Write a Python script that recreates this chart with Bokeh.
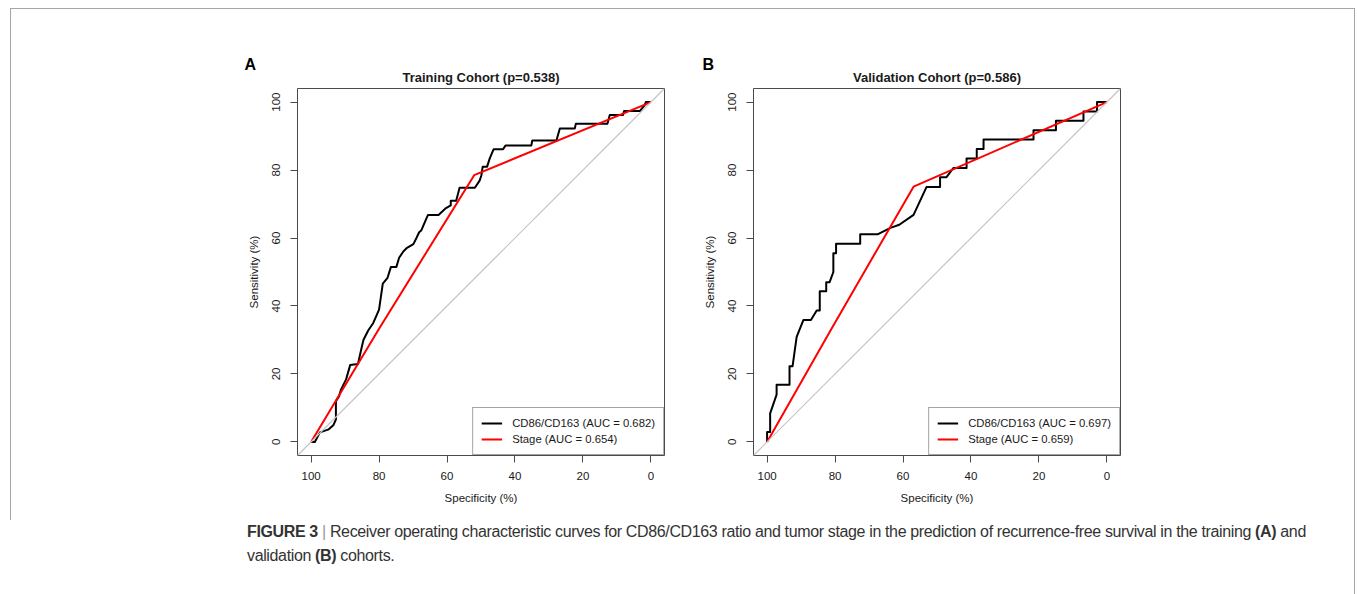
from bokeh.plotting import figure
from bokeh.models import Range1d, Slope, Legend, LegendItem, Title, Div, Spacer, FixedTicker
from bokeh.layouts import row, column
from bokeh.embed import file_html
from bokeh.resources import INLINE

FONT = "Liberation Sans"
INK = "#1a1a1a"
BOX = "#4a4a4a"
FRAME = "#a6a6a6"

axis_ticks = [0, 20, 40, 60, 80, 100]

# Training cohort: ROC of the CD86/CD163 ratio (specificity %, sensitivity %)
train_ratio_spec = [100, 98.9, 97.4, 94.8, 93.4, 92.7, 92.7, 91.8, 91.2, 89.7, 88.5, 86.2,
                    85.2, 84.6, 83.2, 81.7, 80.0, 78.9, 77.5, 76.5, 74.9, 74.1, 72.8, 71.9,
                    69.9, 69.0, 68.2, 67.6, 65.6, 62.5, 60.3, 58.9, 58.9, 57.3, 56.3, 51.8,
                    50.4, 49.9, 49.5, 48.2, 47.4, 46.3, 43.5, 42.8, 35.2, 34.9, 27.8, 26.8,
                    22.4, 22.1, 12.8, 12.1, 8.2, 7.9, 3.2, 1.8, 1.5, 0]
train_ratio_sens = [0, 0, 2.8, 3.7, 5.0, 6.6, 12.0, 13.4, 15.4, 18.4, 22.6, 22.9,
                    27.4, 30.0, 32.8, 35.0, 38.9, 46.6, 48.3, 51.5, 51.5, 54.2, 56.1, 57.0,
                    58.2, 60.0, 61.7, 62.2, 66.8, 66.8, 68.8, 69.6, 71.0, 71.0, 74.8, 74.8,
                    76.9, 78.4, 81.0, 81.0, 83.5, 86.1, 86.1, 87.2, 87.2, 88.7, 88.7, 92.2,
                    92.2, 93.6, 93.6, 96.2, 96.2, 97.4, 97.4, 99.2, 100, 100]

# Training cohort: ROC of tumour stage
train_stage_spec = [100, 80.0, 52.0, 0]
train_stage_sens = [0, 33.3, 78.5, 100]

# Validation cohort: ROC of the CD86/CD163 ratio
valid_ratio_spec = [100, 100, 99.1, 99.1, 97.2, 97.2, 93.4, 93.4, 92.5, 91.3, 89.3, 87.1,
                    85.4, 84.5, 84.5, 82.6, 82.6, 81.6, 80.5, 80.5, 79.7, 79.7, 72.6, 72.6,
                    67.5, 63.7, 61.1, 56.9, 53.1, 49.1, 49.1, 47.2, 45.2, 41.3, 41.3, 38.3,
                    38.3, 36.3, 36.3, 21.6, 21.6, 15.0, 15.0, 6.9, 6.9, 2.9, 2.9, 0]
valid_ratio_sens = [0, 2.9, 2.9, 8.4, 13.9, 16.8, 16.8, 22.3, 22.3, 30.9, 35.9, 35.9,
                    38.7, 38.7, 44.3, 44.3, 47.0, 47.0, 50.0, 55.5, 55.5, 58.3, 58.3, 61.1,
                    61.1, 63.0, 63.9, 66.8, 75.0, 75.0, 77.9, 77.9, 80.6, 80.6, 83.4, 83.4,
                    86.2, 86.2, 89.0, 89.0, 91.7, 91.7, 94.5, 94.5, 97.2, 97.2, 100, 100]

# Validation cohort: ROC of tumour stage
valid_stage_spec = [100, 81.0, 56.9, 0]
valid_stage_sens = [0, 33.4, 75.1, 100]

panels = [
    dict(letter="A", title="Training Cohort (p=0.538)", auc_ratio="0.682", auc_stage="0.654",
         ratio=(train_ratio_spec, train_ratio_sens), stage=(train_stage_spec, train_stage_sens),
         width=689, border_left=286, border_right=36, letter_offset=-53),
    dict(letter="B", title="Validation Cohort (p=0.586)", auc_ratio="0.697", auc_stage="0.659",
         ratio=(valid_ratio_spec, valid_ratio_sens), stage=(valid_stage_spec, valid_stage_sens),
         width=654, border_left=53, border_right=234, letter_offset=-51),
]

PANEL_H = 511


def roc_panel(cfg):
    p = figure(width=cfg["width"], height=PANEL_H,
               x_range=Range1d(104, -4), y_range=Range1d(-4, 104),
               output_backend="svg", toolbar_location=None, title_location=None,
               min_border_left=cfg["border_left"], min_border_right=cfg["border_right"],
               min_border_top=79, min_border_bottom=65)
    p.background_fill_color = "white"
    p.border_fill_color = "white"
    p.outline_line_color = BOX
    p.outline_line_width = 1
    p.grid.visible = False

    for ax in (p.xaxis[0], p.yaxis[0]):
        ax.ticker = FixedTicker(ticks=axis_ticks)
        ax.axis_line_color = None
        ax.major_tick_in = 0
        ax.major_tick_out = 7
        ax.major_tick_line_color = BOX
        ax.minor_tick_line_color = None
        ax.major_label_text_font = FONT
        ax.major_label_text_font_size = "11.5px"
        ax.major_label_text_color = INK
        ax.axis_label_text_font = FONT
        ax.axis_label_text_font_size = "11.5px"
        ax.axis_label_text_font_style = "normal"
        ax.axis_label_text_color = INK

    p.xaxis.axis_label = "Specificity (%)"
    p.xaxis.major_label_standoff = 9
    p.xaxis.axis_label_standoff = 9
    p.yaxis.axis_label = "Sensitivity (%)"
    p.yaxis.major_label_orientation = "vertical"
    p.yaxis.major_label_standoff = 10
    p.yaxis.axis_label_standoff = 10

    # chance diagonal
    p.add_layout(Slope(gradient=-1, y_intercept=100, line_color="#c4c4c4", line_width=1.2))

    r_ratio = p.line(cfg["ratio"][0], cfg["ratio"][1], line_color="#000000",
                     line_width=2, line_join="round")
    r_stage = p.line(cfg["stage"][0], cfg["stage"][1], line_color="#ff0000",
                     line_width=2, line_join="round")

    legend = Legend(items=[
        LegendItem(label="CD86/CD163 (AUC = %s)" % cfg["auc_ratio"], renderers=[r_ratio]),
        LegendItem(label="Stage (AUC = %s)" % cfg["auc_stage"], renderers=[r_stage]),
    ], location="bottom_right", margin=0, padding=8, spacing=2,
        glyph_width=21, glyph_height=14, label_height=14, label_standoff=10,
        label_text_font=FONT, label_text_font_size="11.3px", label_text_color=INK,
        border_line_color=BOX, border_line_width=1,
        background_fill_color="white", background_fill_alpha=1)
    p.add_layout(legend)

    p.add_layout(Title(text=cfg["title"], align="center", text_font=FONT,
                       text_font_size="13px", text_font_style="bold",
                       text_color=INK, standoff=8), "above")
    p.add_layout(Title(text=cfg["letter"], align="left", offset=cfg["letter_offset"],
                       text_font=FONT, text_font_size="16px", text_font_style="bold",
                       text_color="#000000", standoff=-18), "above")
    return p


def rule(w, h):
    return Spacer(width=w, height=h, styles={"background-color": FRAME})


fig_a = roc_panel(panels[0])
fig_b = roc_panel(panels[1])

caption = Div(
    text=("<b>FIGURE 3</b> <span style='color:#999'>|</span> Receiver operating characteristic "
          "curves for CD86/CD163 ratio and tumor stage in the prediction of recurrence-free "
          "survival in the training <b>(A)</b> and<br>validation <b>(B)</b> cohorts."),
    width=1107, height=74, margin=0,
    styles={"font-family": "'Liberation Sans', Arial, sans-serif",
            "font-size": "16px", "line-height": "24px", "letter-spacing": "-0.36px",
            "white-space": "nowrap", "color": "#333333"})

layout = column(
    Spacer(width=1357, height=8),
    row(Spacer(width=10, height=1), rule(1345, 1)),
    row(Spacer(width=10, height=PANEL_H), rule(1, PANEL_H), fig_a, fig_b, rule(1, PANEL_H)),
    row(Spacer(width=247, height=74), caption, rule(1, 74)),
)

open("out.html", "w").write(file_html(layout, INLINE, title="ROC curves"))
